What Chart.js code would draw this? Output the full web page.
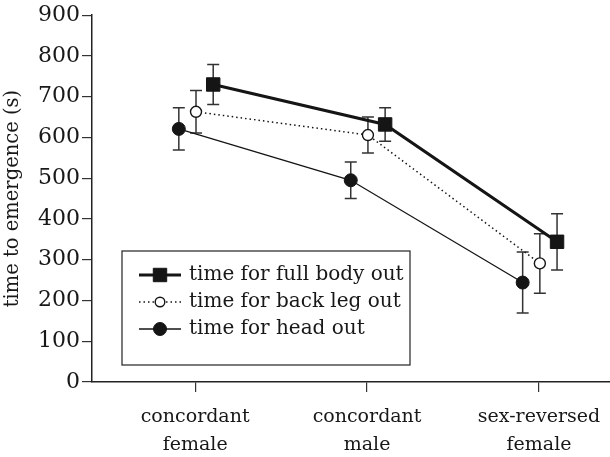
<!DOCTYPE html>
<html>
<head>
<meta charset="utf-8">
<script src="https://cdn.jsdelivr.net/npm/chart.js@4.4.0/dist/chart.umd.min.js"></script>
<style>
  html, body { margin: 0; padding: 0; background: #fff; }
  #wrap { width: 610px; height: 457px; }
</style>
</head>
<body>
<div id="wrap"><canvas id="emergence" width="610" height="457"></canvas></div>
<script>
// categories along x
let categories = [["concordant", "female"], ["concordant", "male"], ["sex-reversed", "female"]];
let yTicks = [0, 100, 200, 300, 400, 500, 600, 700, 800, 900];

// means and error (s)
let fullBody = [730, 632, 344];
let fullBodyErr = [49, 41, 69];
let backLeg = [663, 606, 291];
let backLegErr = [52, 44, 73];
let headOut = [621, 495, 244];
let headOutErr = [52, 45, 75];

let seriesNames = ["time for full body out", "time for back leg out", "time for head out"];
// small horizontal dodge for each series
let dodge = [0.105, 0.005, -0.095];

let serif = "'DejaVu Serif', serif";
let ink = "#151515";
let textInk = "#181818";

function points(values, shift) {
    return values.map((v, i) => ({ x: i + 1 + shift, y: v }));
}

let errors = [fullBodyErr, backLegErr, headOutErr];

let errorBars = {
    id: "errorBars",
    beforeDatasetsDraw(chart) {
        let ctx = chart.ctx;
        let xs = chart.scales.x, ys = chart.scales.y;
        ctx.save();
        ctx.strokeStyle = "#333";
        ctx.lineWidth = 1.5;
        chart.data.datasets.forEach((ds, d) => {
            ds.data.forEach((p, i) => {
                let e = errors[d][i];
                let px = xs.getPixelForValue(p.x);
                let top = ys.getPixelForValue(p.y + e);
                let bot = ys.getPixelForValue(p.y - e);
                ctx.beginPath();
                ctx.moveTo(px, top); ctx.lineTo(px, bot);
                ctx.moveTo(px - 6, top); ctx.lineTo(px + 6, top);
                ctx.moveTo(px - 6, bot); ctx.lineTo(px + 6, bot);
                ctx.stroke();
            });
        });
        ctx.restore();
    }
};

let boxLegend = {
    id: "boxLegend",
    afterDatasetsDraw(chart) {
        let ctx = chart.ctx;
        ctx.save();
        ctx.fillStyle = "#fff";
        ctx.fillRect(122, 251, 288, 114);
        ctx.strokeStyle = "#333";
        ctx.lineWidth = 1.3;
        ctx.strokeRect(122, 251, 288, 114);
        let rows = [275, 302, 329];
        chart.data.datasets.forEach((ds, d) => {
            let y = rows[d];
            ctx.strokeStyle = ink;
            ctx.lineWidth = ds.borderWidth;
            ctx.setLineDash(ds.borderDash || []);
            ctx.beginPath();
            ctx.moveTo(139, y); ctx.lineTo(181, y);
            ctx.stroke();
            ctx.setLineDash([]);
            ctx.fillStyle = ds.pointBackgroundColor;
            ctx.lineWidth = ds.pointBorderWidth;
            ctx.beginPath();
            if (ds.pointStyle === "rect") {
                let s = ds.pointRadius * Math.SQRT1_2;
                ctx.rect(160 - s, y - s, 2 * s, 2 * s);
            } else {
                ctx.arc(160, y, d === 1 ? 4.8 : ds.pointRadius, 0, Math.PI * 2);
            }
            ctx.fill();
            ctx.stroke();
            ctx.fillStyle = textInk;
            ctx.font = "20px " + serif;
            ctx.textBaseline = "middle";
            ctx.fillText(seriesNames[d], 189, y);
        });
        ctx.restore();
    }
};

let data = {
    datasets: [{
        label: seriesNames[0],
        data: points(fullBody, dodge[0]),
        borderColor: ink,
        borderWidth: 3,
        pointStyle: "rect",
        pointRadius: 9.5,
        pointBorderWidth: 1,
        pointBackgroundColor: ink,
        pointBorderColor: ink
    }, {
        label: seriesNames[1],
        data: points(backLeg, dodge[1]),
        borderColor: ink,
        borderWidth: 1.5,
        borderDash: [1.5, 3],
        pointStyle: "circle",
        pointRadius: 5.5,
        pointBorderWidth: 1.4,
        pointBackgroundColor: "#fff",
        pointBorderColor: ink
    }, {
        label: seriesNames[2],
        data: points(headOut, dodge[2]),
        borderColor: ink,
        borderWidth: 1.3,
        pointStyle: "circle",
        pointRadius: 6.5,
        pointBorderWidth: 1,
        pointBackgroundColor: ink,
        pointBorderColor: ink
    }]
};

let options = {
    responsive: false,
    animation: false,
    layout: { autoPadding: false, padding: { top: 13, right: 0, bottom: 0, left: 0 } },
    plugins: { legend: { display: false }, tooltip: { enabled: false } },
    scales: {
        x: {
            type: "linear",
            min: 0.4,
            max: 3.413,
            afterBuildTicks: axis => { axis.ticks = [1, 2, 3].map(v => ({ value: v })); },
            afterFit: axis => { axis.height = 75; axis.paddingLeft = 0; axis.paddingRight = 0; },
            ticks: {
                callback: v => categories[v - 1],
                font: { family: serif, size: 19, lineHeight: "28px" },
                color: textInk,
                padding: 11,
                maxRotation: 0,
                autoSkip: false
            },
            grid: { drawOnChartArea: false, drawTicks: true, tickLength: 10, color: "#333", lineWidth: 1.2 },
            border: { display: true, color: "#222", width: 1.5 }
        },
        y: {
            min: 0,
            max: 900,
            afterBuildTicks: axis => { axis.ticks = yTicks.map(v => ({ value: v })); },
            afterFit: axis => { axis.width = 92; },
            ticks: {
                font: { family: serif, size: 22 },
                color: textInk,
                padding: 2
            },
            grid: { drawOnChartArea: false, drawTicks: true, tickLength: 10, color: "#333", lineWidth: 1.2 },
            border: { display: true, color: "#222", width: 1.5 },
            title: {
                display: true,
                text: "time to emergence (s)",
                font: { family: serif, size: 19.5 },
                color: textInk,
                padding: { top: 1, bottom: 0 }
            }
        }
    }
};

let emergence_chart = new Chart(document.getElementById("emergence"), {
    type: "line",
    data: data,
    options: options,
    plugins: [errorBars, boxLegend]
});
</script>
</body>
</html>
